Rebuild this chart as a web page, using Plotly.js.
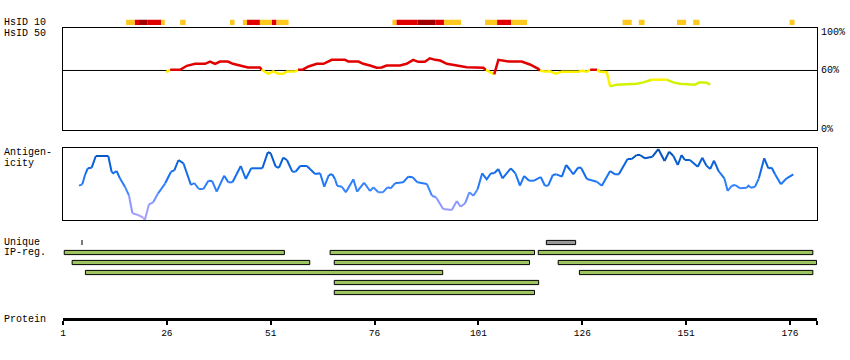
<!DOCTYPE html>
<html><head><meta charset="utf-8">
<script src="https://cdn.plot.ly/plotly-3.0.1.min.js"></script>
<style>html,body{margin:0;padding:0;background:#fff}#chart{width:850px;height:360px}</style>
</head><body><div id="chart"></div>
<script>
// ---------- DATA ----------
const proteinRange = [1, 182.5];
const proteinTicks = [1, 26, 51, 76, 101, 126, 151, 176];

// HsID 10 blocks (residue start/end, level 1=low,2=mid,3=high)
const hsid10Start = [16.2, 18.3, 19.3, 21.4, 24.6, 29.2, 41.2, 44.3, 45.3, 48.4, 51.3, 52.4, 80.3, 81.3, 86.3, 90.7, 92.7, 102.6, 105.5, 108.9, 135.7, 139.6, 148.8, 152.7, 175.9];
const hsid10End   = [18.3, 19.3, 21.4, 24.6, 25.5, 30.5, 42.3, 45.3, 48.4, 51.3, 52.4, 55.3, 81.3, 86.3, 90.7, 92.7, 96.8, 105.5, 108.9, 112.7, 137.9, 141.0, 151.0, 154.2, 177.1];
const hsid10Level = [1, 2, 3, 2, 1, 1, 1, 1, 2, 1, 2, 1, 1, 2, 3, 2, 1, 1, 2, 1, 1, 1, 1, 1, 1];

// HsID 50 identity (%)
const hsidRes = [25.8,26.8,29.2,30.8,32.8,35.2,36.4,37.6,38.8,40.7,41.9,43.6,45.5,48.4,48.8,50.4,51.6,52.8,54.0,54.9,56.9,57.6,58.8,60.1,62.1,63.7,65.7,68.9,69.7,72.1,73.3,74.9,76.5,77.7,78.9,82.1,83.7,85.3,86.5,88.1,89.3,90.6,91.8,93.4,95.4,98.2,102.2,102.8,104.6,104.8,105.8,108.2,111.4,113.4,115.4,115.8,117.0,118.2,119.6,121.1,125.1,125.9,127.1,127.9,129.6,130.1,131.9,132.7,134.3,139.1,140.7,142.7,146.3,147.9,149.5,153.1,154.3,155.9,156.8];
const hsidVal = [58.3,60.7,60.7,64.7,66.7,66.7,69,66.7,69,69,66.7,65,63,63,60.7,56.7,59,56.7,56.7,59,59,60.7,61,64,66.7,66.7,70.7,70.7,69,69,66.7,65,62.7,63,65,65,66.7,70.7,68.7,68.7,72.3,70.7,70,66.7,65,63.3,62.7,60.5,56.7,56,70.7,69,69,66,61.7,59.8,59,59.3,56.7,58.7,58.7,59.8,58.7,60.7,60.7,59,58.3,44,45.7,46.7,48,50.7,50.7,48,46.7,45.7,48,47.7,45.7];
const hsidThreshold = 60;
const pctTicks = [100, 60, 0];
const pctText = ['100%', '60%', '0%'];

// Antigenicity (arbitrary score)
const antRes = [4.85,5.65,6.3,6.95,7.9,8.9,11.9,12.7,13.1,13.9,14.7,15.9,16.9,17.7,19.1,20.3,20.7,21.7,22.7,23.9,25.6,27.0,27.8,28.8,30.0,31.8,32.6,33.7,34.8,36.0,36.9,38.0,39.8,40.8,41.8,43.8,45.0,46.3,49.0,50.3,51.0,52.2,53.0,54.0,54.9,56.2,57.0,58.1,59.7,61.7,62.9,63.9,65.0,65.8,66.5,67.0,68.1,69.1,70.9,71.8,73.5,74.9,75.7,76.9,78.0,79.1,79.9,80.9,82.9,84.1,85.2,86.3,88.6,89.8,90.8,92.5,94.6,95.8,96.7,97.8,98.8,99.8,100.8,101.9,103.0,104.0,104.8,105.8,106.8,108.8,109.9,111.0,112.0,113.2,114.4,116.0,117.0,117.8,118.9,119.8,121.1,122.1,123.1,123.8,125.0,125.7,127.1,129.5,130.7,132.7,133.9,134.8,136.9,137.9,139.1,139.9,141.1,142.9,144.3,145.8,146.9,147.9,149.0,149.9,150.7,151.9,153.8,154.9,155.9,156.8,157.7,158.8,160.2,161.0,162.0,162.8,164.0,165.6,166.0,166.6,167.6,168.5,169.8,170.8,171.6,172.4,173.8,175.2,176.8];
const antVal = [34.3,35.7,45,51.7,52.3,64,64,48.3,46.7,49,41.7,33.3,24.3,6.7,5,2.3,0,15.7,17.7,26.7,36.7,48.3,49.7,60,56.7,35,37,31,31,39.3,39,28.3,44.3,37.7,37.7,54,41,51.7,51.7,67.7,66.7,53.3,52.3,62.3,60,48.3,48.3,54,54,46,46.7,33.3,45,45.7,40.7,34.3,33.3,27.7,40.7,28.3,37.3,29,32.7,27.7,27.7,32.7,31.7,36.7,37.7,43.3,42.7,37.7,36,24.3,22.7,11,10,19,13.3,16.7,27.7,24.3,30.7,46.7,40.7,46.7,46.7,51,41.7,51.7,46.7,34.3,44,39.3,39.3,43,34.3,34.3,45,45.7,43.3,55,50,45.7,52.3,52.3,41,38.3,34.3,49,45.7,45.7,61,61,65,65,61.7,63.3,71,59,68.3,64.3,55,65,60,60,53.3,62.3,54.3,51,59.3,49,41.7,29,34.3,35,31.7,32.3,34.3,32.3,33.3,41.7,61.7,51.7,52.3,45.7,35.7,41.7,45.7];

// Unique region + IP regions (row, start, end)
const uniqueTickStart = [5.45], uniqueTickEnd = [5.7];
const uniqueStart = [117.35], uniqueEnd = [124.4];
const ipRow   = [1, 1, 1, 2, 2, 2, 3, 3, 4, 5];
const ipStart = [1.3, 65.3, 115.4, 3.2, 66.3, 120.2, 6.4, 125.3, 66.3, 66.3];
const ipEnd   = [54.3, 114.5, 181.5, 60.4, 113.3, 182.4, 92.4, 181.5, 115.5, 114.5];

// ---------- STYLE / LAYOUT ----------
const W = 850, H = 360;
const py = p => 1 - p / H;
const xDom = [63 / W, 817 / W];
const FONT = 'Liberation Mono, DejaVu Sans Mono, monospace';

const levelColors = {1: '#ffc81e', 2: '#e10000', 3: '#a00000'};
const hsidColors = ['#e10000', '#fff200', '#d2f200'];
const hsidClass = v => v >= 60 ? 0 : (v >= 50 ? 1 : 2);

const antStops = [[0, [178, 165, 255]], [18, [135, 150, 255]], [30, [60, 135, 255]], [42, [25, 115, 245]], [56, [10, 98, 220]], [70, [0, 78, 178]]];
function antColor(v) {
  if (v <= antStops[0][0]) return 'rgb(' + antStops[0][1].join(',') + ')';
  for (let i = 1; i < antStops.length; i++) {
    if (v <= antStops[i][0]) {
      const [a, ca] = antStops[i - 1], [b, cb] = antStops[i];
      const t = (v - a) / (b - a);
      return 'rgb(' + ca.map((c, k) => Math.round(c + (cb[k] - c) * t)).join(',') + ')';
    }
  }
  return 'rgb(' + antStops[antStops.length - 1][1].join(',') + ')';
}

const traces = [];

// HsID 10 band
traces.push({
  type: 'bar', orientation: 'h', xaxis: 'x', yaxis: 'y',
  y: hsid10Start.map(() => 0), base: hsid10Start,
  x: hsid10Start.map((s, i) => hsid10End[i] - s),
  width: 1, marker: {color: hsid10Level.map(l => levelColors[l]), line: {width: 0}},
  hoverinfo: 'skip'
});

// HsID 50 line split into colour runs
(function () {
  let cur = null;
  for (let i = 0; i < hsidRes.length - 1; i++) {
    const c = hsidClass((hsidVal[i] + hsidVal[i + 1]) / 2);
    if (!cur || cur.c !== c) {
      cur = {c, x: [hsidRes[i]], y: [hsidVal[i]]};
      traces.push({type: 'scatter', mode: 'lines', xaxis: 'x2', yaxis: 'y2', x: cur.x, y: cur.y,
        line: {color: hsidColors[c], width: 2.5}, hoverinfo: 'skip', _run: cur});
    }
    cur.x.push(hsidRes[i + 1]); cur.y.push(hsidVal[i + 1]);
  }
})();

// Antigenicity line, coloured by value
(function () {
  let cur = null;
  for (let i = 0; i < antRes.length - 1; i++) {
    const col = antColor((antVal[i] + antVal[i + 1]) / 2);
    if (!cur || cur.col !== col) {
      cur = {col, x: [antRes[i]], y: [antVal[i]]};
      traces.push({type: 'scatter', mode: 'lines', xaxis: 'x3', yaxis: 'y3', x: cur.x, y: cur.y,
        line: {color: col, width: 2}, hoverinfo: 'skip'});
    }
    cur.x.push(antRes[i + 1]); cur.y.push(antVal[i + 1]);
  }
})();
traces.forEach(t => delete t._run);

// Unique + IP bars
traces.push({
  type: 'bar', orientation: 'h', xaxis: 'x4', yaxis: 'y4',
  y: uniqueTickStart.map(() => 0), base: uniqueTickStart, x: uniqueTickStart.map((s, i) => uniqueTickEnd[i] - s),
  width: 0.5, marker: {color: '#000', line: {width: 0}}, hoverinfo: 'skip'
});
traces.push({
  type: 'bar', orientation: 'h', xaxis: 'x4', yaxis: 'y4',
  y: uniqueStart.map(() => 0), base: uniqueStart, x: uniqueStart.map((s, i) => uniqueEnd[i] - s),
  width: 0.42, marker: {color: '#9a9a9a', line: {color: '#000', width: 1}}, hoverinfo: 'skip'
});
traces.push({
  type: 'bar', orientation: 'h', xaxis: 'x4', yaxis: 'y4',
  y: ipRow, base: ipStart, x: ipStart.map((s, i) => ipEnd[i] - s),
  width: 0.42, marker: {color: '#9dc45f', line: {color: '#000', width: 1}}, hoverinfo: 'skip'
});

// Protein axis carrier (invisible)
traces.push({type: 'scatter', mode: 'markers', xaxis: 'x5', yaxis: 'y5', x: [proteinRange[0]], y: [0],
  marker: {opacity: 0}, hoverinfo: 'skip'});

const hidden = {showgrid: false, zeroline: false, showticklabels: false, ticks: '', showline: false, fixedrange: true};
const boxX = (anchor) => Object.assign({}, hidden, {domain: xDom, range: proteinRange, anchor, showline: true, mirror: true, linecolor: '#000', linewidth: 1});

const layout = {
  width: W, height: H, margin: {l: 0, r: 0, t: 0, b: 0},
  paper_bgcolor: '#fff', plot_bgcolor: 'rgba(0,0,0,0)',
  showlegend: false, barmode: 'overlay', hovermode: false,
  font: {family: FONT, size: 10, color: '#000'},
  xaxis: Object.assign({}, hidden, {domain: xDom, range: proteinRange, anchor: 'y'}),
  yaxis: Object.assign({}, hidden, {domain: [py(25), py(19.5)], range: [-0.5, 0.5], anchor: 'x'}),
  xaxis2: boxX('y2'),
  yaxis2: Object.assign({}, hidden, {domain: [py(130), py(28)], range: [0, 102.8], anchor: 'x2', showline: true, mirror: true, linecolor: '#000', linewidth: 1}),
  xaxis3: boxX('y3'),
  yaxis3: Object.assign({}, hidden, {domain: [py(220), py(148)], range: [0, 72], anchor: 'x3', showline: true, mirror: true, linecolor: '#000', linewidth: 1}),
  xaxis4: Object.assign({}, hidden, {domain: xDom, range: proteinRange, anchor: 'y4'}),
  yaxis4: Object.assign({}, hidden, {domain: [py(297.5), py(237.5)], range: [5.5, -0.5], anchor: 'x4'}),
  xaxis5: {domain: xDom, range: proteinRange, anchor: 'y5', showgrid: false, zeroline: false,
    showline: true, linecolor: '#000', linewidth: 3,
    ticks: 'outside', ticklen: 4, tickwidth: 2, tickcolor: '#000',
    tickvals: proteinTicks.concat([proteinRange[1]]), ticktext: proteinTicks.map(String).concat(['']),
    tickfont: {family: FONT, size: 9.5, color: '#000'}, fixedrange: true},
  yaxis5: Object.assign({}, hidden, {domain: [py(318), py(310)], range: [0, 1], anchor: 'x5'}),
  shapes: [{type: 'line', xref: 'x2 domain', yref: 'y2', x0: 0, x1: 1, y0: hsidThreshold, y1: hsidThreshold,
    line: {color: '#000', width: 1}, layer: 'below'}],
  annotations: [
    ['HsID 10', 22.7], ['HsID 50', 33], ['Antigen-', 152.5], ['icity', 163.5],
    ['Unique', 242], ['IP-reg.', 253], ['Protein', 319.5]
  ].map(([t, y]) => ({text: t, xref: 'paper', yref: 'paper', x: 2 / W, y: py(y), xanchor: 'left', yanchor: 'middle',
    showarrow: false, font: {family: FONT, size: 10, color: '#000'}}))
    .concat(pctTicks.map((v, i) => ({text: pctText[i], xref: 'paper', yref: 'y2', x: 819 / W, y: v, xanchor: 'left', yanchor: 'middle',
      yshift: v === 100 ? -2 : 0, showarrow: false, font: {family: FONT, size: 10, color: '#000'}})))
};

Plotly.newPlot('chart', traces, layout, {staticPlot: true, displayModeBar: false});
</script></body></html>
